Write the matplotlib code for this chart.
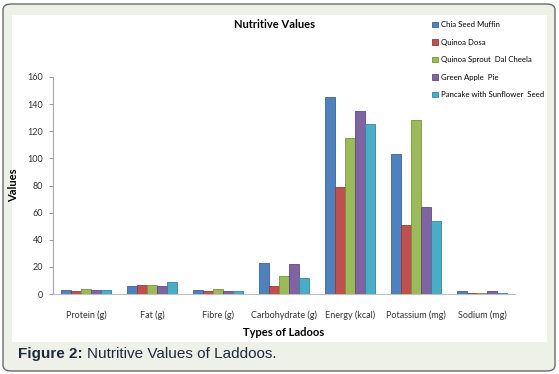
import matplotlib.pyplot as plt
from matplotlib.patches import FancyBboxPatch, Rectangle
import numpy as np

plt.rcParams['font.family'] = ['Lato', 'DejaVu Sans']

categories = ['Protein (g)', 'Fat (g)', 'Fibre (g)', 'Carbohydrate (g)',
              'Energy (kcal)', 'Potassium (mg)', 'Sodium (mg)']
chia_seed_muffin = [3, 6, 3, 23, 145, 103, 2]
quinoa_dosa = [2, 7, 2, 6, 79, 51, 1]
quinoa_sprout_dal_cheela = [4, 7, 4, 13, 115, 128, 1]
green_apple_pie = [3, 6, 2, 22, 135, 64, 2]
pancake_sunflower_seed = [3, 9, 2, 12, 125, 54, 0.8]

series = [
    ('Chia Seed Muffin', chia_seed_muffin, '#4f81bd', '#3a6397'),
    ('Quinoa Dosa', quinoa_dosa, '#c0504d', '#9a3936'),
    ('Quinoa Sprout  Dal Cheela', quinoa_sprout_dal_cheela, '#9bbb59', '#77933c'),
    ('Green Apple  Pie', green_apple_pie, '#8064a2', '#604a7b'),
    ('Pancake with Sunflower  Seed', pancake_sunflower_seed, '#4bacc6', '#31859c'),
]

fig = plt.figure(figsize=(5.59, 3.74), dpi=100)
fig.patch.set_facecolor('white')

# outer rounded frame and white chart panel
W, H = 559, 374
frame = FancyBboxPatch((3 / W, 3 / H), 552 / W, 367 / H,
                       boxstyle='round,pad=0,rounding_size=0.015',
                       transform=fig.transFigure, facecolor='#edf1e8',
                       edgecolor='#6b6b6b', linewidth=1.0, zorder=-2)
fig.patches.append(frame)
panel = Rectangle((12 / W, 1 - 342 / H), 535 / W, 327 / H,
                  transform=fig.transFigure, facecolor='white',
                  edgecolor='none', zorder=-1)
fig.patches.append(panel)

ax = fig.add_axes([53 / W, 1 - 294 / H, 462 / W, 217 / H])
ax.set_facecolor('none')

x = np.arange(len(categories))
bw = 0.152
for i, (name, vals, col, edge) in enumerate(series):
    ax.bar(x + (i - 2) * bw, vals, width=bw, color=col, edgecolor=edge,
           linewidth=0.6, label=name, zorder=3)

ax.set_xlim(-0.5, len(categories) - 0.5)
ax.set_ylim(0, 160)
ax.set_yticks(range(0, 161, 20))
ax.set_xticks(x)
ax.set_xticklabels(categories)
ax.tick_params(axis='y', labelsize=6.5, colors='#8c8c8c', labelcolor='#333333',
               length=3, width=0.6, pad=4)
ax.tick_params(axis='x', labelsize=6.5, labelcolor='#333333', length=0, pad=12)

for s in ['top', 'right']:
    ax.spines[s].set_visible(False)
ax.spines['left'].set_color('#a6a6a6')
ax.spines['bottom'].set_color('#bfbfbf')
ax.spines['left'].set_linewidth(0.8)
ax.spines['bottom'].set_linewidth(0.8)

ax.set_ylabel('Values', fontsize=8, fontweight='bold')
ax.yaxis.set_label_coords((19 - 53) / 462, 0.5)
ax.set_xlabel('Types of Ladoos', fontsize=8, fontweight='bold')
ax.xaxis.set_label_coords(0.5, (294 - 327) / 217)

fig.text(275 / W, 1 - 24 / H, 'Nutritive Values', fontsize=8, fontweight='bold',
         ha='center', va='center')

ax.legend(loc='upper left', bbox_to_anchor=(429 / W, 1 - 18 / H),
          bbox_transform=fig.transFigure, frameon=False, fontsize=5.6,
          handlelength=0.7, handleheight=0.7, handletextpad=0.4,
          labelspacing=1.35, borderaxespad=0)

cap1 = fig.text(18 / W, 1 - 354 / H, 'Figure 2:', fontsize=11, fontweight='bold',
                color='#1c2b3d', family='Liberation Sans', va='center')
renderer = fig.canvas.get_renderer()
bb = cap1.get_window_extent(renderer)
fig.text((bb.x1 + 4) / W, 1 - 354 / H, 'Nutritive Values of Laddoos.', fontsize=11,
         color='#1c2b3d', family='Liberation Sans', va='center')

fig.savefig('out.png', dpi=100)
